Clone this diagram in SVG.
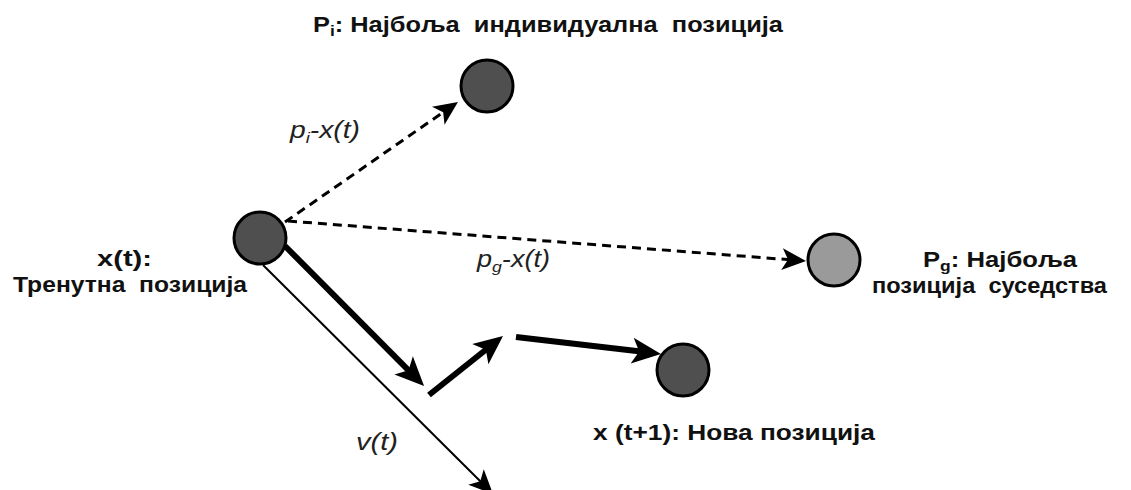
<svg xmlns="http://www.w3.org/2000/svg" width="1131" height="490" viewBox="0 0 1131 490">
<style>
.lbl{font-family:"Liberation Sans",Arial,sans-serif;font-weight:bold;font-size:22px;fill:#111;white-space:pre}
.it{font-family:"Liberation Sans",Arial,sans-serif;font-style:italic;font-size:23px;fill:#222}
.node{stroke:#000;stroke-width:3}
.dark{fill:#4f4f4f}
.light{fill:#9a9a9a}
.dash{stroke:#000;stroke-width:3;stroke-dasharray:9 6;fill:none}
.thick{stroke:#000;stroke-width:6;fill:none}
.thin{stroke:#000;stroke-width:2;fill:none}
</style>
<defs>
<marker id="mThick" markerUnits="userSpaceOnUse" viewBox="-15 -15 34 30" markerWidth="34" markerHeight="30" refX="0" refY="0" orient="auto">
<path d="M16,0 L-13,-13 L-6,0 L-13,13 Z" fill="#000"/>
</marker>
<marker id="mDash" markerUnits="userSpaceOnUse" viewBox="-13 -12 28 24" markerWidth="28" markerHeight="24" refX="0" refY="0" orient="auto">
<path d="M13,0 L-11,-11 L-5,0 L-11,11 Z" fill="#000"/>
</marker>
</defs>
<rect width="1131" height="490" fill="#fff"/>
<g id="connectors">
<line class="dash" x1="285" y1="222" x2="447.3" y2="109.4" marker-end="url(#mDash)"/>
<line class="dash" x1="288" y1="221" x2="793" y2="260" marker-end="url(#mDash)"/>
<line class="thick" x1="285" y1="246" x2="412.8" y2="374.6" marker-end="url(#mThick)"/>
<line class="thick" x1="429" y1="395" x2="490.5" y2="346" marker-end="url(#mThick)"/>
<line class="thick" x1="516" y1="337" x2="645.1" y2="352.1" marker-end="url(#mThick)"/>
<line class="thin" x1="263" y1="265" x2="483.8" y2="484.8" marker-end="url(#mDash)"/>
<text class="it" x="290" y="138" textLength="70" lengthAdjust="spacingAndGlyphs">p<tspan font-size="15" dy="5">i</tspan><tspan dy="-5">-x(t)</tspan></text>
<text class="it" x="477" y="267" textLength="73" lengthAdjust="spacingAndGlyphs">p<tspan font-size="15" dy="5">g</tspan><tspan dy="-5">-x(t)</tspan></text>
<text class="it" x="356" y="450" textLength="42" lengthAdjust="spacingAndGlyphs">v(t)</text>
</g>
<g id="node-xt">
<circle class="node dark" cx="260" cy="238" r="26"/>
<text class="lbl" x="97" y="266" textLength="55" lengthAdjust="spacingAndGlyphs">x(t):</text>
<text class="lbl" x="13" y="292" textLength="234" lengthAdjust="spacingAndGlyphs">Тренутна  позиција</text>
</g>
<g id="node-pi">
<circle class="node dark" cx="487" cy="86" r="26"/>
<text class="lbl" x="313" y="32" textLength="470" lengthAdjust="spacingAndGlyphs">P<tspan font-size="15" dy="4">i</tspan><tspan dy="-4">: Најбоља  индивидуална  позиција</tspan></text>
</g>
<g id="node-pg">
<circle class="node light" cx="834" cy="260" r="26"/>
<text class="lbl" x="923" y="267" textLength="154" lengthAdjust="spacingAndGlyphs">P<tspan font-size="15" dy="4">g</tspan><tspan dy="-4">: Најбоља</tspan></text>
<text class="lbl" x="872" y="293" textLength="235" lengthAdjust="spacingAndGlyphs">позиција  суседства</text>
</g>
<g id="node-xt1">
<circle class="node dark" cx="683" cy="370" r="26"/>
<text class="lbl" x="593" y="440" textLength="282" lengthAdjust="spacingAndGlyphs">x (t+1): Нова позиција</text>
</g>
</svg>
